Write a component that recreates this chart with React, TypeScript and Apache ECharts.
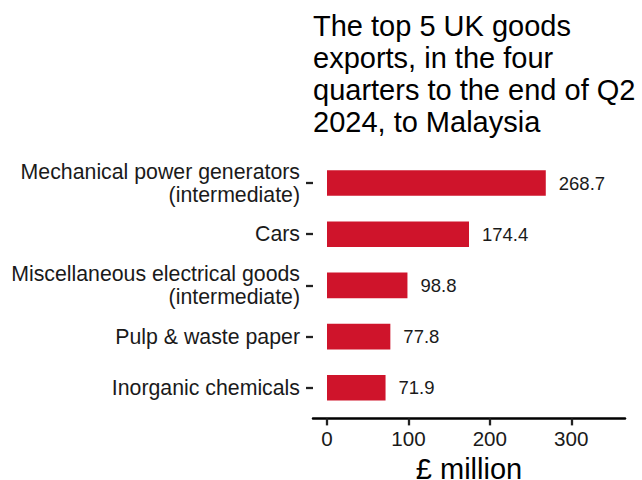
import React, { useEffect, useRef } from "react";
import * as echarts from "echarts";

const categories = [
  "Mechanical power generators\n(intermediate)",
  "Cars",
  "Miscellaneous electrical goods\n(intermediate)",
  "Pulp & waste paper",
  "Inorganic chemicals",
];
const values = [268.7, 174.4, 98.8, 77.8, 71.9];
const xTicks = [0, 100, 200, 300];
const titleText =
  "The top 5 UK goods\nexports, in the four\nquarters to the end of Q2\n2024, to Malaysia";
const xAxisTitle = "£ million";

const FONT = "'Liberation Sans', Arial, sans-serif";

export default function App() {
  const ref = useRef<HTMLDivElement>(null);
  useEffect(() => {
    if (!ref.current) return;
    const chart = echarts.init(ref.current, undefined, { renderer: "svg" });
    chart.setOption({
      animation: false,
      textStyle: { fontFamily: FONT },
      title: {
        text: titleText,
        left: 313,
        top: 10,
        padding: 0,
        textStyle: {
          fontFamily: FONT,
          fontSize: 29,
          lineHeight: 32,
          fontWeight: "normal",
          color: "#000",
        },
      },
      grid: {
        left: 313,
        right: 17,
        top: 157.4,
        height: 256,
        outerBoundsMode: "none",
        containLabel: false,
      },
      xAxis: {
        type: "value",
        min: -17.2,
        max: 366,
        offset: 5,
        name: xAxisTitle,
        nameLocation: "middle",
        nameGap: 33.5,
        nameTextStyle: { fontFamily: FONT, fontSize: 29, lineHeight: 24, color: "#000" },
        axisLine: { show: true, onZero: false, lineStyle: { color: "#000", width: 2.5 } },
        axisTick: {
          show: true,
          length: 7,
          customValues: xTicks,
          lineStyle: { color: "#222", width: 2.3 },
        },
        axisLabel: {
          customValues: xTicks,
          fontFamily: FONT,
          fontSize: 20.6,
          color: "#1a1a1a",
          margin: 10,
        },
        splitLine: { show: false },
      },
      yAxis: {
        type: "category",
        data: categories,
        inverse: true,
        axisLine: { show: false, onZero: false },
        axisTick: {
          show: true,
          length: 7,
          alignWithLabel: true,
          lineStyle: { color: "#222", width: 2.3 },
        },
        axisLabel: {
          fontFamily: FONT,
          fontSize: 21.3,
          lineHeight: 23,
          color: "#1a1a1a",
          margin: 13,
          align: "right",
        },
        splitLine: { show: false },
      },
      series: [
        {
          type: "bar",
          data: values,
          barWidth: "50%",
          itemStyle: { color: "#CF142B" },
          label: {
            show: true,
            position: "right",
            distance: 13,
            fontFamily: FONT,
            fontSize: 18.5,
            color: "#1a1a1a",
            formatter: (p: any) => p.value.toFixed(1),
          },
        },
      ],
    });
    return () => chart.dispose();
  }, []);
  return (
    <div
      ref={ref}
      style={{ position: "absolute", left: 0, top: 0, width: 642, height: 480 }}
    />
  );
}
